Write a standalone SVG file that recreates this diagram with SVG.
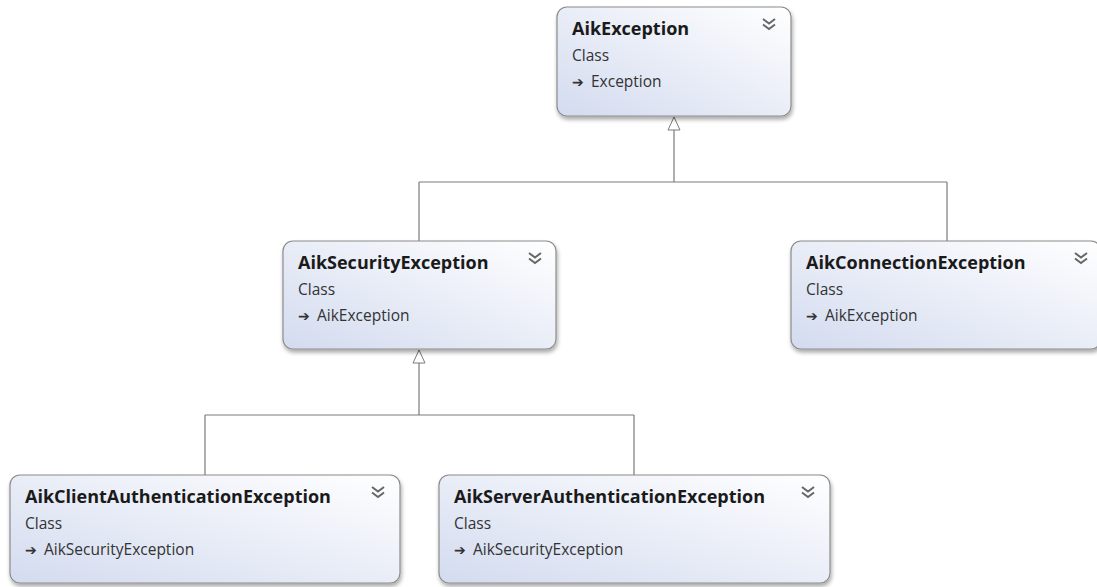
<svg xmlns="http://www.w3.org/2000/svg" width="1097" height="587" viewBox="0 0 1097 587">
<defs>
<linearGradient id="g" x1="0" y1="1" x2="1" y2="0">
<stop offset="0" stop-color="#d3dbef"/>
<stop offset="1" stop-color="#ffffff"/>
</linearGradient>
<filter id="sh" x="-5%" y="-5%" width="115%" height="125%">
<feGaussianBlur in="SourceAlpha" stdDeviation="2"/>
<feOffset dx="1" dy="3"/>
<feComponentTransfer><feFuncA type="linear" slope="0.35"/></feComponentTransfer>
<feMerge><feMergeNode/><feMergeNode in="SourceGraphic"/></feMerge>
</filter>
<marker id="tri" markerWidth="16" markerHeight="16" refX="8" refY="1" markerUnits="userSpaceOnUse" orient="0" viewBox="0 0 16 16">
<path d="M8,1 L14,14 L2,14 Z" fill="#fff" stroke="#7a7a7a" stroke-width="1"/>
</marker>
<g id="chev">
<path d="M-6,-6 L0,-1.5 L6,-6 M-6,-0.5 L0,4 L6,-0.5" fill="none" stroke="#666" stroke-width="2"/>
</g>
</defs>
<style>
.box{fill:url(#g);stroke:#8c8c8c;stroke-width:1.2;filter:url(#sh)}
.t{font-family:"Open Sans","Noto Sans",sans-serif;font-weight:bold;font-size:18px;fill:#1a1a1a}
.s{font-family:"Open Sans","Noto Sans",sans-serif;font-size:15.5px;fill:#333}
.a{font-size:14px}
.ln{fill:none;stroke:#7a7a7a;stroke-width:1.2}
</style>
<g id="connectors">
<path class="ln" d="M674,117 V182 M419,182 H947 M419,182 V241 M947,182 V241" marker-start="url(#tri)"/>
<path class="ln" d="M419,350 V415 M205,415 H634 M205,415 V475 M634,415 V475" marker-start="url(#tri)"/>
</g>
<g id="AikException">
<rect class="box" x="557" y="7" width="234" height="109" rx="10"/>
<text class="t" x="572" y="35">AikException</text>
<text class="s" x="572" y="61">Class</text>
<text class="s" x="572" y="87"><tspan class="a">➔</tspan><tspan x="591">Exception</tspan></text>
<use href="#chev" x="769" y="25"/>
</g>
<g id="AikSecurityException">
<rect class="box" x="283" y="241" width="273" height="108" rx="10"/>
<text class="t" x="298" y="269">AikSecurityException</text>
<text class="s" x="298" y="295">Class</text>
<text class="s" x="298" y="321"><tspan class="a">➔</tspan><tspan x="317">AikException</tspan></text>
<use href="#chev" x="535" y="259"/>
</g>
<g id="AikConnectionException">
<rect class="box" x="791" y="241" width="310" height="108" rx="10"/>
<text class="t" x="806" y="269">AikConnectionException</text>
<text class="s" x="806" y="295">Class</text>
<text class="s" x="806" y="321"><tspan class="a">➔</tspan><tspan x="825">AikException</tspan></text>
<use href="#chev" x="1081" y="259"/>
</g>
<g id="AikClientAuthenticationException">
<rect class="box" x="10" y="475" width="390" height="108" rx="10"/>
<text class="t" x="25" y="503">AikClientAuthenticationException</text>
<text class="s" x="25" y="529">Class</text>
<text class="s" x="25" y="555"><tspan class="a">➔</tspan><tspan x="44">AikSecurityException</tspan></text>
<use href="#chev" x="378" y="493"/>
</g>
<g id="AikServerAuthenticationException">
<rect class="box" x="439" y="475" width="391" height="108" rx="10"/>
<text class="t" x="454" y="503">AikServerAuthenticationException</text>
<text class="s" x="454" y="529">Class</text>
<text class="s" x="454" y="555"><tspan class="a">➔</tspan><tspan x="473">AikSecurityException</tspan></text>
<use href="#chev" x="808" y="493"/>
</g>
</svg>
